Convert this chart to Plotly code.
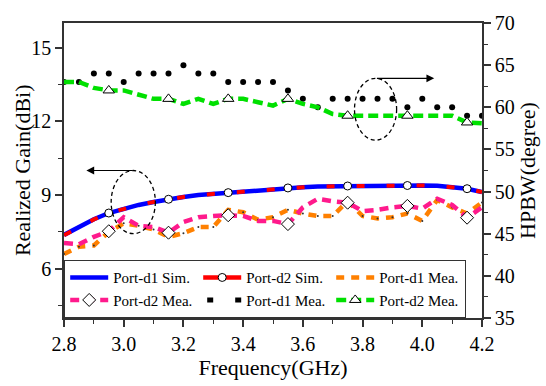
import numpy as np
import plotly.graph_objects as go

# ---------------- data ----------------
freq = [2.80, 2.85, 2.90, 2.95, 3.00, 3.05, 3.10, 3.15, 3.20, 3.25,
        3.30, 3.35, 3.40, 3.45, 3.50, 3.55, 3.60, 3.65, 3.70, 3.75,
        3.80, 3.85, 3.90, 3.95, 4.00, 4.05, 4.10, 4.15, 4.20]

gain_sim_d1 = [7.38, 7.72, 8.02, 8.27, 8.45, 8.60, 8.72, 8.83, 8.92, 9.00,
               9.05, 9.10, 9.15, 9.20, 9.25, 9.29, 9.32, 9.35, 9.36, 9.37,
               9.38, 9.38, 9.39, 9.39, 9.39, 9.38, 9.34, 9.26, 9.12]
gain_sim_d2 = [7.37, 7.71, 8.01, 8.27, 8.45, 8.60, 8.72, 8.83, 8.92, 9.00,
               9.05, 9.10, 9.15, 9.20, 9.25, 9.29, 9.32, 9.35, 9.36, 9.37,
               9.38, 9.38, 9.39, 9.39, 9.39, 9.38, 9.34, 9.26, 9.12]
gain_mea_d1 = [6.60, 6.90, 6.95, 7.50, 7.85, 7.75, 7.60, 7.30, 7.45, 7.70,
               7.70, 8.40, 8.30, 8.00, 8.10, 8.40, 8.25, 8.15, 8.15, 8.75,
               8.15, 8.05, 8.10, 8.25, 7.95, 8.80, 8.50, 8.25, 8.70]
gain_mea_d2 = [7.05, 7.00, 7.30, 7.53, 8.10, 7.75, 7.70, 7.47, 7.90, 8.10,
               8.15, 8.18, 8.15, 7.95, 7.95, 7.82, 8.50, 8.85, 8.75, 8.69,
               8.35, 8.40, 8.50, 8.56, 8.45, 8.85, 8.60, 8.08, 8.50]
hpbw_mea_d1 = [63, 63, 64, 64, 63, 64, 64, 64, 65, 64,
               64, 63, 63, 63, 63, 62, 61, 60, 61, 61,
               61, 61, 61, 60, 61, 60, 60, 59, 59]
hpbw_mea_d2 = [63.0, 63.0, 62.3, 62.0, 62.0, 61.5, 61.0, 61.0, 60.4, 61.0,
               60.4, 61.0, 61.0, 60.6, 60.2, 61.0, 60.4, 60.0, 59.2, 59.0,
               59.0, 59.0, 59.0, 59.0, 59.0, 59.0, 59.0, 58.2, 58.1]

x_ticks = [2.8, 3.0, 3.2, 3.4, 3.6, 3.8, 4.0, 4.2]

names = ["Port-d1 Sim.", "Port-d2 Sim.", "Port-d1 Mea.",
         "Port-d2 Mea.", "Port-d1 Mea.", "Port-d2 Mea."]

BLUE, RED, ORANGE, PINK, BLACK, GREEN = "#0000FF", "#FF0000", "#FF8000", "#FF1A8C", "#000000", "#00E000"
FONT = "'Liberation Serif', 'Times New Roman', Times, serif"

f = np.array(freq)
sel = slice(3, None, 4)   # marker points every 0.2 GHz starting 2.95

fig = go.Figure()

# Left-axis traces
fig.add_trace(go.Scatter(x=f, y=gain_sim_d1, mode="lines", showlegend=False,
                         line=dict(color=BLUE, width=4.5)))
fig.add_trace(go.Scatter(x=f, y=gain_sim_d2, mode="lines", showlegend=False,
                         line=dict(color=RED, width=4, dash="8px,22px")))
fig.add_trace(go.Scatter(x=f[sel], y=np.array(gain_sim_d2)[sel], mode="markers", showlegend=False,
                         marker=dict(symbol="circle", size=8, color="white",
                                     line=dict(color="black", width=1))))
fig.add_trace(go.Scatter(x=f, y=gain_mea_d1, mode="lines+markers", showlegend=False,
                         line=dict(color=ORANGE, width=4.5, dash="8px,7px"),
                         marker=dict(size=2, color="#333333")))
fig.add_trace(go.Scatter(x=f, y=gain_mea_d2, mode="lines", showlegend=False,
                         line=dict(color=PINK, width=4.5, dash="9px,6px")))
fig.add_trace(go.Scatter(x=f[sel], y=np.array(gain_mea_d2)[sel], mode="markers", showlegend=False,
                         marker=dict(symbol="diamond", size=10, color="white",
                                     line=dict(color="black", width=1))))

# Right-axis traces
fig.add_trace(go.Scatter(x=f, y=hpbw_mea_d1, mode="markers", yaxis="y2", showlegend=False,
                         marker=dict(symbol="circle", size=6, color=BLACK, line=dict(width=0))))
fig.add_trace(go.Scatter(x=f, y=hpbw_mea_d2, mode="lines", yaxis="y2", showlegend=False,
                         line=dict(color=GREEN, width=4.5, dash="10px,5px")))
fig.add_trace(go.Scatter(x=f[sel], y=np.array(hpbw_mea_d2)[sel], mode="markers", yaxis="y2",
                         showlegend=False,
                         marker=dict(symbol="triangle-up", size=10, color="white",
                                     line=dict(color="black", width=1))))

# Legend entries
leg_styles = [
    dict(mode="lines", line=dict(color=BLUE, width=4.5)),
    dict(mode="lines+markers", line=dict(color=RED, width=4.5),
         marker=dict(symbol="circle", size=8, color="white", line=dict(color="black", width=1))),
    dict(mode="lines", line=dict(color=ORANGE, width=4.5, dash="8px,7px")),
    dict(mode="lines+markers", line=dict(color=PINK, width=4.5, dash="9px,6px"),
         marker=dict(symbol="diamond", size=10, color="white", line=dict(color="black", width=1))),
    dict(mode="lines", line=dict(color=BLACK, width=5, dash="0px,4px,6px,18px")),
    dict(mode="lines+markers", line=dict(color=GREEN, width=4.5, dash="10px,5px"),
         marker=dict(symbol="triangle-up", size=10, color="white", line=dict(color="black", width=1))),
]
for nm, st in zip(names, leg_styles):
    fig.add_trace(go.Scatter(x=[None], y=[None], name=nm, showlegend=True, **st))

AX = dict(showline=True, linecolor="#333333", linewidth=1.5, showgrid=False, zeroline=False,
          ticks="outside", ticklen=7, tickwidth=1.5, tickcolor="#333333",
          tickfont=dict(family=FONT, size=20, color="black"))

fig.update_layout(
    width=546, height=386,
    margin=dict(l=64, r=56, t=15, b=63),
    paper_bgcolor="white", plot_bgcolor="white",
    font=dict(family=FONT, color="black"),
    xaxis=dict(range=[2.8, 4.2], tickvals=x_ticks, tickformat=".1f", mirror=True,
               minor=dict(ticks="outside", dtick=0.1, tick0=2.8, ticklen=4, tickwidth=1.2, tickcolor="#333333"),
               title=dict(text="Frequency(GHz)", font=dict(family=FONT, size=22), standoff=4),
               **AX),
    yaxis=dict(range=[4, 16], dtick=3, tick0=0,
               minor=dict(ticks="outside", dtick=1.5, tick0=0, ticklen=4, tickwidth=1.2, tickcolor="#333333"),
               **AX),
    yaxis2=dict(range=[35, 70], dtick=5, tick0=0, overlaying="y", side="right",
                minor=dict(ticks="outside", dtick=2.5, tick0=0, ticklen=4, tickwidth=1.2, tickcolor="#333333"),
                title=dict(text="HPBW(degree)", font=dict(family=FONT, size=22), standoff=4),
                **AX),
    legend=dict(orientation="h", x=0.0, y=0.0, xanchor="left", yanchor="bottom",
                bgcolor="white", bordercolor="#333333", borderwidth=1.2,
                font=dict(family=FONT, size=15, color="black"),
                itemwidth=38, entrywidth=80, tracegroupgap=0),
)

# left axis title
fig.add_annotation(text="Realized Gain(dBi)", xref="paper", yref="paper", x=-0.099, y=0.5,
                   xanchor="center", yanchor="middle", textangle=-90, showarrow=False,
                   font=dict(family=FONT, size=22, color="black"))

# dashed ellipses
fig.add_shape(type="circle", xref="x", yref="y", x0=2.958, x1=3.106, y0=7.43, y1=10.0,
              line=dict(color="black", width=1.3, dash="4px,3px"))
fig.add_shape(type="circle", xref="x", yref="y2", x0=3.773, x1=3.914, y0=56.1, y1=63.44,
              line=dict(color="black", width=1.3, dash="4px,3px"))
# arrows
fig.add_annotation(x=2.875, y=10.0, ax=3.035, ay=10.0, xref="x", yref="y", axref="x", ayref="y",
                   text="", showarrow=True, arrowhead=2, arrowsize=1.3, arrowwidth=1.2,
                   arrowcolor="black", standoff=0, startstandoff=0)
fig.add_annotation(x=4.04, y=63.44, ax=3.843, ay=63.44, xref="x", yref="y2", axref="x", ayref="y2",
                   text="", showarrow=True, arrowhead=2, arrowsize=1.3, arrowwidth=1.2,
                   arrowcolor="black", standoff=0, startstandoff=0)

fig.write_html("out.html")
